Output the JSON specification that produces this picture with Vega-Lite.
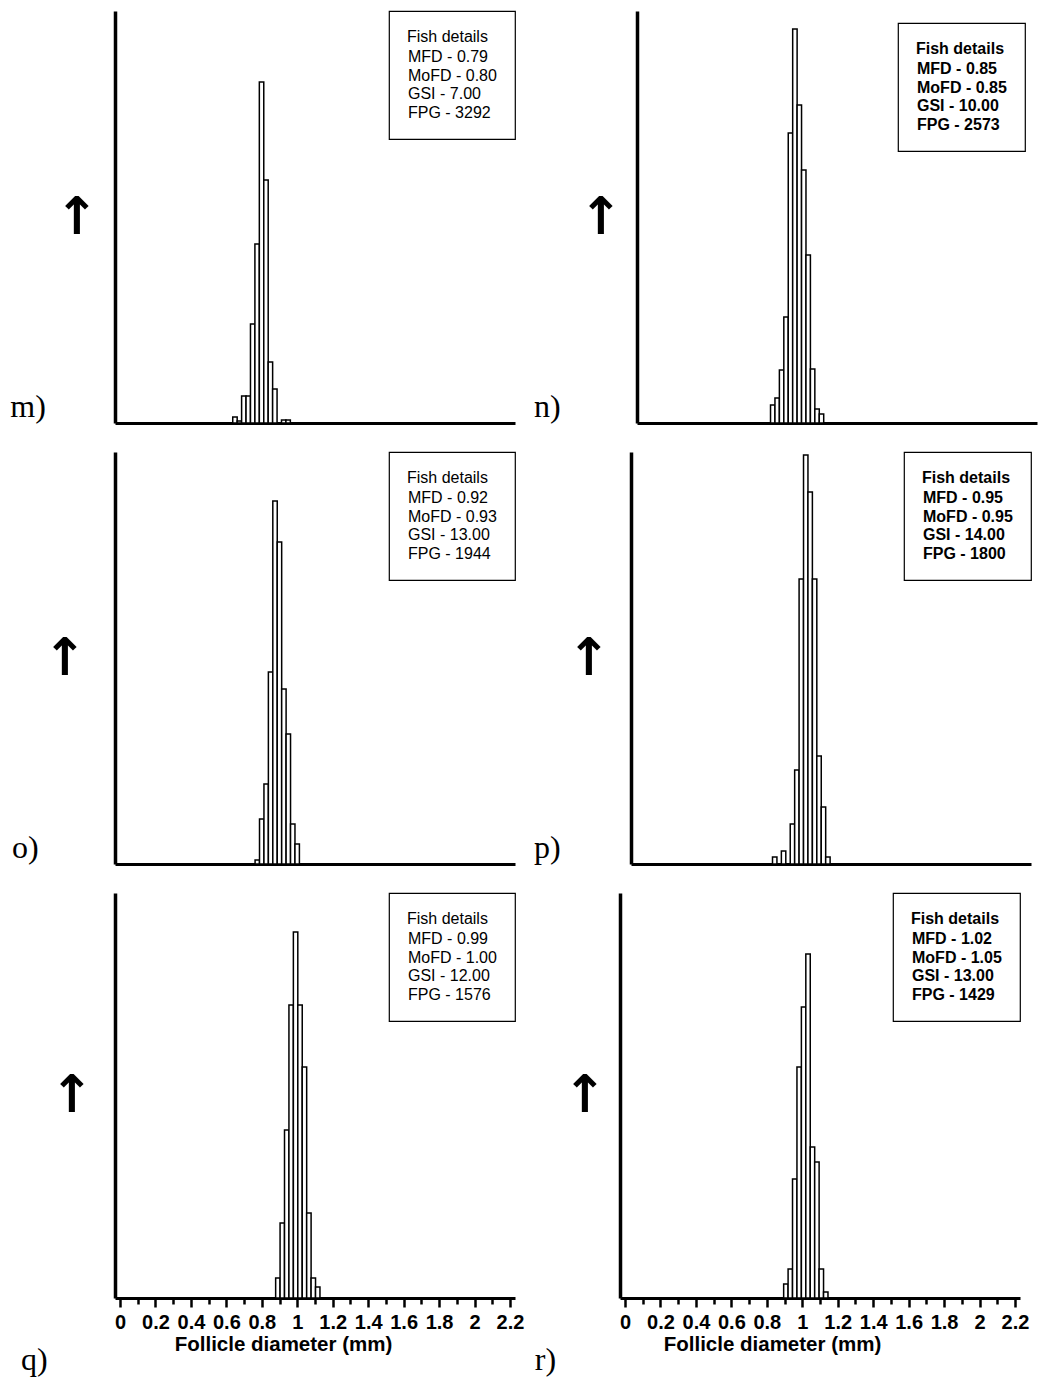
{
  "$schema": "https://vega.github.io/schema/vega-lite/v6.json",
  "background": "white",
  "padding": {"left": 10, "top": 10, "right": 5, "bottom": 5},
  "config": {
    "view": {"stroke": null},
    "font": "Liberation Sans",
    "legend": {"orient": "top-right", "offset": 0, "padding": 18, "strokeColor": "black", "strokeWidth": 1.2, "fillColor": "white", "titleFont": "Liberation Sans", "titleFontSize": 16, "titleFontWeight": "normal", "titleColor": "black", "titlePadding": 4, "labelFont": "Liberation Sans", "labelFontSize": 16, "labelColor": "black", "labelOffset": -15, "symbolSize": 1, "symbolOpacity": 0, "symbolStrokeWidth": 0, "rowPadding": 2.5, "labelLimit": 300, "titleLimit": 300}
  },
  "datasets": {
    "bars": [
      {"panel": "m", "start": 0.636, "end": 0.661, "count": 6},
      {"panel": "m", "start": 0.661, "end": 0.686, "count": 2},
      {"panel": "m", "start": 0.686, "end": 0.711, "count": 27},
      {"panel": "m", "start": 0.711, "end": 0.736, "count": 27},
      {"panel": "m", "start": 0.736, "end": 0.761, "count": 99},
      {"panel": "m", "start": 0.761, "end": 0.786, "count": 179},
      {"panel": "m", "start": 0.786, "end": 0.811, "count": 341},
      {"panel": "m", "start": 0.811, "end": 0.836, "count": 243},
      {"panel": "m", "start": 0.836, "end": 0.861, "count": 61},
      {"panel": "m", "start": 0.861, "end": 0.886, "count": 34},
      {"panel": "m", "start": 0.886, "end": 0.911, "count": 0},
      {"panel": "m", "start": 0.911, "end": 0.936, "count": 3},
      {"panel": "m", "start": 0.936, "end": 0.961, "count": 3},
      {"panel": "n", "start": 0.725, "end": 0.750, "count": 18},
      {"panel": "n", "start": 0.750, "end": 0.775, "count": 25},
      {"panel": "n", "start": 0.775, "end": 0.800, "count": 53},
      {"panel": "n", "start": 0.800, "end": 0.825, "count": 106},
      {"panel": "n", "start": 0.825, "end": 0.850, "count": 290},
      {"panel": "n", "start": 0.850, "end": 0.875, "count": 394},
      {"panel": "n", "start": 0.875, "end": 0.900, "count": 318},
      {"panel": "n", "start": 0.900, "end": 0.925, "count": 253},
      {"panel": "n", "start": 0.925, "end": 0.950, "count": 168},
      {"panel": "n", "start": 0.950, "end": 0.975, "count": 54},
      {"panel": "n", "start": 0.975, "end": 1.000, "count": 14},
      {"panel": "n", "start": 1.000, "end": 1.025, "count": 9},
      {"panel": "o", "start": 0.762, "end": 0.787, "count": 4},
      {"panel": "o", "start": 0.787, "end": 0.812, "count": 45},
      {"panel": "o", "start": 0.812, "end": 0.837, "count": 80},
      {"panel": "o", "start": 0.837, "end": 0.862, "count": 192},
      {"panel": "o", "start": 0.862, "end": 0.887, "count": 363},
      {"panel": "o", "start": 0.887, "end": 0.912, "count": 322},
      {"panel": "o", "start": 0.912, "end": 0.937, "count": 175},
      {"panel": "o", "start": 0.937, "end": 0.962, "count": 130},
      {"panel": "o", "start": 0.962, "end": 0.987, "count": 40},
      {"panel": "o", "start": 0.987, "end": 1.012, "count": 20},
      {"panel": "p", "start": 0.770, "end": 0.795, "count": 7},
      {"panel": "p", "start": 0.795, "end": 0.820, "count": 0},
      {"panel": "p", "start": 0.820, "end": 0.845, "count": 13},
      {"panel": "p", "start": 0.845, "end": 0.870, "count": 0},
      {"panel": "p", "start": 0.870, "end": 0.895, "count": 40},
      {"panel": "p", "start": 0.895, "end": 0.920, "count": 94},
      {"panel": "p", "start": 0.920, "end": 0.945, "count": 285},
      {"panel": "p", "start": 0.945, "end": 0.970, "count": 409},
      {"panel": "p", "start": 0.970, "end": 0.995, "count": 372},
      {"panel": "p", "start": 0.995, "end": 1.020, "count": 285},
      {"panel": "p", "start": 1.020, "end": 1.045, "count": 108},
      {"panel": "p", "start": 1.045, "end": 1.070, "count": 57},
      {"panel": "p", "start": 1.070, "end": 1.095, "count": 7},
      {"panel": "q", "start": 0.878, "end": 0.903, "count": 20},
      {"panel": "q", "start": 0.903, "end": 0.928, "count": 75},
      {"panel": "q", "start": 0.928, "end": 0.953, "count": 168},
      {"panel": "q", "start": 0.953, "end": 0.978, "count": 293},
      {"panel": "q", "start": 0.978, "end": 1.003, "count": 366},
      {"panel": "q", "start": 1.003, "end": 1.028, "count": 293},
      {"panel": "q", "start": 1.028, "end": 1.053, "count": 231},
      {"panel": "q", "start": 1.053, "end": 1.078, "count": 85},
      {"panel": "q", "start": 1.078, "end": 1.103, "count": 20},
      {"panel": "q", "start": 1.103, "end": 1.128, "count": 11},
      {"panel": "r", "start": 0.895, "end": 0.920, "count": 14},
      {"panel": "r", "start": 0.920, "end": 0.945, "count": 29},
      {"panel": "r", "start": 0.945, "end": 0.970, "count": 119},
      {"panel": "r", "start": 0.970, "end": 0.995, "count": 231},
      {"panel": "r", "start": 0.995, "end": 1.020, "count": 291},
      {"panel": "r", "start": 1.020, "end": 1.045, "count": 344},
      {"panel": "r", "start": 1.045, "end": 1.070, "count": 151},
      {"panel": "r", "start": 1.070, "end": 1.095, "count": 136},
      {"panel": "r", "start": 1.095, "end": 1.120, "count": 29},
      {"panel": "r", "start": 1.120, "end": 1.145, "count": 6}
    ],
    "info": [
      {"panel": "m", "detail": "MFD - 0.79"}, {"panel": "m", "detail": "MoFD - 0.80"}, {"panel": "m", "detail": "GSI - 7.00"}, {"panel": "m", "detail": "FPG - 3292"},
      {"panel": "n", "detail": "MFD - 0.85"}, {"panel": "n", "detail": "MoFD - 0.85"}, {"panel": "n", "detail": "GSI - 10.00"}, {"panel": "n", "detail": "FPG - 2573"},
      {"panel": "o", "detail": "MFD - 0.92"}, {"panel": "o", "detail": "MoFD - 0.93"}, {"panel": "o", "detail": "GSI - 13.00"}, {"panel": "o", "detail": "FPG - 1944"},
      {"panel": "p", "detail": "MFD - 0.95"}, {"panel": "p", "detail": "MoFD - 0.95"}, {"panel": "p", "detail": "GSI - 14.00"}, {"panel": "p", "detail": "FPG - 1800"},
      {"panel": "q", "detail": "MFD - 0.99"}, {"panel": "q", "detail": "MoFD - 1.00"}, {"panel": "q", "detail": "GSI - 12.00"}, {"panel": "q", "detail": "FPG - 1576"},
      {"panel": "r", "detail": "MFD - 1.02"}, {"panel": "r", "detail": "MoFD - 1.05"}, {"panel": "r", "detail": "GSI - 13.00"}, {"panel": "r", "detail": "FPG - 1429"}
    ]
  },
  "resolve": {"scale": {"color": "independent"}, "legend": {"color": "independent"}},
  "columns": 2,
  "align": "none",
  "spacing": {"row": 27, "column": 10},
  "concat": [
    {
      "width": 400, "height": 412,
      "title": {"text": "m)", "orient": "left", "anchor": "start", "angle": 0, "align": "right", "baseline": "bottom", "font": "Liberation Serif", "fontSize": 32, "fontWeight": "normal", "color": "black", "offset": -27},
      "layer": [
        {"data": {"name": "bars"}, "transform": [{"filter": "datum.panel == 'm'"}],
         "mark": {"type": "bar", "orient": "vertical", "fill": "white", "stroke": "black", "strokeWidth": 1.5, "clip": false},
         "encoding": {
           "x": {"field": "start", "type": "quantitative", "scale": {"domain": [0, 2.2], "nice": false, "zero": true},
                 "axis": {"labels": false, "ticks": false, "grid": false, "title": null, "domainColor": "black", "domainWidth": 3}},
           "x2": {"field": "end"},
           "y": {"field": "count", "type": "quantitative", "scale": {"domain": [0, 412], "nice": false},
                 "axis": {"labels": false, "ticks": false, "grid": false, "domainColor": "black", "domainWidth": 3.5, "title": "↑", "titleAngle": 0, "titleAlign": "right", "titleBaseline": "middle", "titleFont": "DejaVu Sans", "titleFontSize": 52, "titleFontWeight": "bold", "titleColor": "black", "titlePadding": 17}},
           "y2": {"datum": 0}
         }},
        {"data": {"name": "info"}, "transform": [{"filter": "datum.panel == 'm'"}],
         "mark": {"type": "point", "opacity": 0},
         "encoding": {"color": {"field": "detail", "type": "nominal", "sort": null, "legend": {"title": "Fish details\u2003\u2003\u2003", "offset": 0, "symbolSize": 1, "labelOffset": -15, "symbolStrokeWidth": 0}}}}
      ]
    },
    {
      "width": 400, "height": 412,
      "title": {"text": "n)", "orient": "left", "anchor": "start", "angle": 0, "align": "right", "baseline": "bottom", "font": "Liberation Serif", "fontSize": 32, "fontWeight": "normal", "color": "black", "offset": -9},
      "layer": [
        {"data": {"name": "bars"}, "transform": [{"filter": "datum.panel == 'n'"}],
         "mark": {"type": "bar", "orient": "vertical", "fill": "white", "stroke": "black", "strokeWidth": 1.5, "clip": false},
         "encoding": {
           "x": {"field": "start", "type": "quantitative", "scale": {"domain": [0, 2.2], "nice": false, "zero": true},
                 "axis": {"labels": false, "ticks": false, "grid": false, "title": null, "domainColor": "black", "domainWidth": 3}},
           "x2": {"field": "end"},
           "y": {"field": "count", "type": "quantitative", "scale": {"domain": [0, 412], "nice": false},
                 "axis": {"labels": false, "ticks": false, "grid": false, "domainColor": "black", "domainWidth": 3.5, "title": "↑", "titleAngle": 0, "titleAlign": "right", "titleBaseline": "middle", "titleFont": "DejaVu Sans", "titleFontSize": 52, "titleFontWeight": "bold", "titleColor": "black", "titlePadding": 15}},
           "y2": {"datum": 0}
         }},
        {"data": {"name": "info"}, "transform": [{"filter": "datum.panel == 'n'"}],
         "mark": {"type": "point", "opacity": 0},
         "encoding": {"color": {"field": "detail", "type": "nominal", "sort": null, "legend": {"title": "Fish details\u2003\u2003", "titleFontWeight": "bold", "labelFontWeight": "bold", "offset": 12, "symbolSize": 1, "labelOffset": -15, "symbolStrokeWidth": 0}}}}
      ]
    },
    {
      "width": 400, "height": 412,
      "title": {"text": "o)", "orient": "left", "anchor": "start", "angle": 0, "align": "right", "baseline": "bottom", "font": "Liberation Serif", "fontSize": 32, "fontWeight": "normal", "color": "black", "offset": -23},
      "layer": [
        {"data": {"name": "bars"}, "transform": [{"filter": "datum.panel == 'o'"}],
         "mark": {"type": "bar", "orient": "vertical", "fill": "white", "stroke": "black", "strokeWidth": 1.5, "clip": false},
         "encoding": {
           "x": {"field": "start", "type": "quantitative", "scale": {"domain": [0, 2.2], "nice": false, "zero": true},
                 "axis": {"labels": false, "ticks": false, "grid": false, "title": null, "domainColor": "black", "domainWidth": 3}},
           "x2": {"field": "end"},
           "y": {"field": "count", "type": "quantitative", "scale": {"domain": [0, 412], "nice": false},
                 "axis": {"labels": false, "ticks": false, "grid": false, "domainColor": "black", "domainWidth": 3.5, "title": "↑", "titleAngle": 0, "titleAlign": "right", "titleBaseline": "middle", "titleFont": "DejaVu Sans", "titleFontSize": 52, "titleFontWeight": "bold", "titleColor": "black", "titlePadding": 29}},
           "y2": {"datum": 0}
         }},
        {"data": {"name": "info"}, "transform": [{"filter": "datum.panel == 'o'"}],
         "mark": {"type": "point", "opacity": 0},
         "encoding": {"color": {"field": "detail", "type": "nominal", "sort": null, "legend": {"title": "Fish details\u2003\u2003\u2003", "offset": 0, "symbolSize": 1, "labelOffset": -15, "symbolStrokeWidth": 0}}}}
      ]
    },
    {
      "width": 400, "height": 412,
      "title": {"text": "p)", "orient": "left", "anchor": "start", "angle": 0, "align": "right", "baseline": "bottom", "font": "Liberation Serif", "fontSize": 32, "fontWeight": "normal", "color": "black", "offset": -21},
      "layer": [
        {"data": {"name": "bars"}, "transform": [{"filter": "datum.panel == 'p'"}],
         "mark": {"type": "bar", "orient": "vertical", "fill": "white", "stroke": "black", "strokeWidth": 1.5, "clip": false},
         "encoding": {
           "x": {"field": "start", "type": "quantitative", "scale": {"domain": [0, 2.2], "nice": false, "zero": true},
                 "axis": {"labels": false, "ticks": false, "grid": false, "title": null, "domainColor": "black", "domainWidth": 3}},
           "x2": {"field": "end"},
           "y": {"field": "count", "type": "quantitative", "scale": {"domain": [0, 412], "nice": false},
                 "axis": {"labels": false, "ticks": false, "grid": false, "domainColor": "black", "domainWidth": 3.5, "title": "↑", "titleAngle": 0, "titleAlign": "right", "titleBaseline": "middle", "titleFont": "DejaVu Sans", "titleFontSize": 52, "titleFontWeight": "bold", "titleColor": "black", "titlePadding": 21}},
           "y2": {"datum": 0}
         }},
        {"data": {"name": "info"}, "transform": [{"filter": "datum.panel == 'p'"}],
         "mark": {"type": "point", "opacity": 0},
         "encoding": {"color": {"field": "detail", "type": "nominal", "sort": null, "legend": {"title": "Fish details\u2003\u2003", "titleFontWeight": "bold", "labelFontWeight": "bold", "offset": 0, "symbolSize": 1, "labelOffset": -15, "symbolStrokeWidth": 0}}}}
      ]
    },
    {
      "width": 400, "height": 405,
      "title": {"text": "q)", "orient": "left", "anchor": "start", "angle": 0, "align": "right", "baseline": "bottom", "font": "Liberation Serif", "fontSize": 32, "fontWeight": "normal", "color": "black", "offset": -25, "dy": 22},
      "layer": [
        {"data": {"name": "bars"}, "transform": [{"filter": "datum.panel == 'q'"}],
         "mark": {"type": "bar", "orient": "vertical", "fill": "white", "stroke": "black", "strokeWidth": 1.5, "clip": false},
         "encoding": {
           "x": {"field": "start", "type": "quantitative", "scale": {"domain": [0, 2.2], "nice": false, "zero": true},
                 "axis": {"values": [0, 0.1, 0.2, 0.3, 0.4, 0.5, 0.6, 0.7, 0.8, 0.9, 1, 1.1, 1.2, 1.3, 1.4, 1.5, 1.6, 1.7, 1.8, 1.9, 2, 2.1, 2.2], "format": "~g", "labelExpr": "round(datum.value*10) % 2 == 0 ? datum.label : ''", "labelFont": "Liberation Sans", "labelFontSize": 20, "labelFontWeight": "bold", "labelColor": "black", "labelOverlap": false, "labelFlush": false, "labelBound": false, "labelPadding": 5, "tickColor": "black", "tickWidth": 2.5, "tickSize": {"condition": {"test": "round(datum.value*10) % 2 == 0", "value": 9}, "value": 6}, "grid": false, "domainColor": "black", "domainWidth": 3, "title": "Follicle diameter (mm)", "titleFont": "Liberation Sans", "titleFontSize": 20.5, "titleFontWeight": "bold", "titleColor": "black", "titlePadding": 2, "titleX": 168}},
           "x2": {"field": "end"},
           "y": {"field": "count", "type": "quantitative", "scale": {"domain": [0, 405], "nice": false},
                 "axis": {"labels": false, "ticks": false, "grid": false, "domainColor": "black", "domainWidth": 3.5, "title": "↑", "titleAngle": 0, "titleAlign": "right", "titleBaseline": "middle", "titleFont": "DejaVu Sans", "titleFontSize": 52, "titleFontWeight": "bold", "titleColor": "black", "titlePadding": 22}},
           "y2": {"datum": 0}
         }},
        {"data": {"name": "info"}, "transform": [{"filter": "datum.panel == 'q'"}],
         "mark": {"type": "point", "opacity": 0},
         "encoding": {"color": {"field": "detail", "type": "nominal", "sort": null, "legend": {"title": "Fish details\u2003\u2003\u2003", "offset": 0, "symbolSize": 1, "labelOffset": -15, "symbolStrokeWidth": 0}}}}
      ]
    },
    {
      "width": 400, "height": 405,
      "title": {"text": "r)", "orient": "left", "anchor": "start", "angle": 0, "align": "right", "baseline": "bottom", "font": "Liberation Serif", "fontSize": 32, "fontWeight": "normal", "color": "black", "offset": -15, "dy": 22},
      "layer": [
        {"data": {"name": "bars"}, "transform": [{"filter": "datum.panel == 'r'"}],
         "mark": {"type": "bar", "orient": "vertical", "fill": "white", "stroke": "black", "strokeWidth": 1.5, "clip": false},
         "encoding": {
           "x": {"field": "start", "type": "quantitative", "scale": {"domain": [0, 2.2], "nice": false, "zero": true},
                 "axis": {"values": [0, 0.1, 0.2, 0.3, 0.4, 0.5, 0.6, 0.7, 0.8, 0.9, 1, 1.1, 1.2, 1.3, 1.4, 1.5, 1.6, 1.7, 1.8, 1.9, 2, 2.1, 2.2], "format": "~g", "labelExpr": "round(datum.value*10) % 2 == 0 ? datum.label : ''", "labelFont": "Liberation Sans", "labelFontSize": 20, "labelFontWeight": "bold", "labelColor": "black", "labelOverlap": false, "labelFlush": false, "labelBound": false, "labelPadding": 5, "tickColor": "black", "tickWidth": 2.5, "tickSize": {"condition": {"test": "round(datum.value*10) % 2 == 0", "value": 9}, "value": 6}, "grid": false, "domainColor": "black", "domainWidth": 3, "title": "Follicle diameter (mm)", "titleFont": "Liberation Sans", "titleFontSize": 20.5, "titleFontWeight": "bold", "titleColor": "black", "titlePadding": 2, "titleX": 152}},
           "x2": {"field": "end"},
           "y": {"field": "count", "type": "quantitative", "scale": {"domain": [0, 405], "nice": false},
                 "axis": {"labels": false, "ticks": false, "grid": false, "domainColor": "black", "domainWidth": 3.5, "title": "↑", "titleAngle": 0, "titleAlign": "right", "titleBaseline": "middle", "titleFont": "DejaVu Sans", "titleFontSize": 52, "titleFontWeight": "bold", "titleColor": "black", "titlePadding": 14}},
           "y2": {"datum": 0}
         }},
        {"data": {"name": "info"}, "transform": [{"filter": "datum.panel == 'r'"}],
         "mark": {"type": "point", "opacity": 0},
         "encoding": {"color": {"field": "detail", "type": "nominal", "sort": null, "legend": {"title": "Fish details\u2003\u2003", "titleFontWeight": "bold", "labelFontWeight": "bold", "offset": 0, "symbolSize": 1, "labelOffset": -15, "symbolStrokeWidth": 0}}}}
      ]
    }
  ]
}
